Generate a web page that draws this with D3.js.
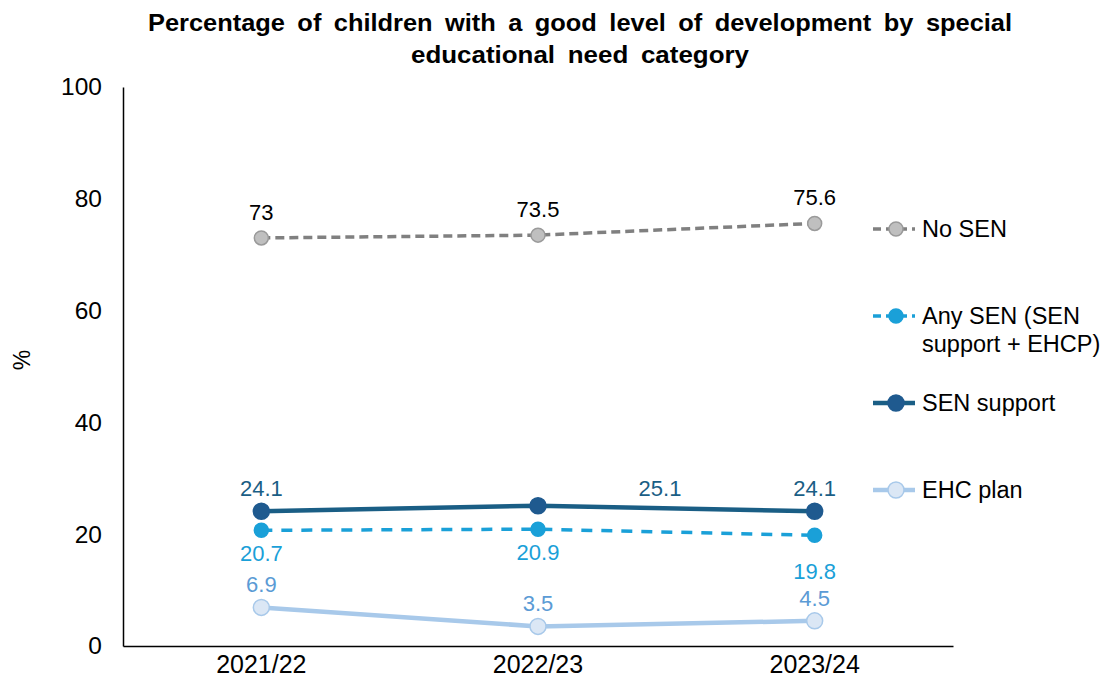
<!DOCTYPE html>
<html><head><meta charset="utf-8">
<script src="https://cdn.jsdelivr.net/npm/d3@7"></script>
<style>body{margin:0;background:#fff}svg{display:block;font-family:"Liberation Sans",Arial,sans-serif}</style>
</head><body><svg id="c" width="1106" height="687"></svg>
<script>
const categories = ["2021/22","2022/23","2023/24"];
const noSEN = [73, 73.5, 75.6];
const anySEN = [20.7, 20.9, 19.8];
const senSupport = [24.1, 25.1, 24.1];
const ehcPlan = [6.9, 3.5, 4.5];
const yTicks = [0,20,40,60,80,100];

const series = [
  {name:"No SEN", values:noSEN, line:"#808080", fill:"#bfbfbf", stroke:"#9a9a9a", width:3.5, dash:"9,5", r:7, label:"#000", pos:["a1","a1","a1"], legY:229, legLines:["No SEN"]},
  {name:"Any SEN (SEN support + EHCP)", values:anySEN, line:"#1aa0d8", fill:"#1aa0d8", stroke:"#1aa0d8", width:3.5, dash:"11,9", r:7, label:"#1aa0d8", pos:["b1","b1","b2"], legY:316, legLines:["Any SEN (SEN","support + EHCP)"]},
  {name:"SEN support", values:senSupport, line:"#1a5e85", fill:"#1f5a8f", stroke:"#1f5a8f", width:4.5, dash:null, r:8, label:"#1a5e85", pos:["a2","r","a2"], legY:403, legLines:["SEN support"]},
  {name:"EHC plan", values:ehcPlan, line:"#a8c9ea", fill:"#dbe7f5", stroke:"#a8c9ea", width:4.5, dash:null, r:8, label:"#5b9bd5", pos:["a3","a3","a3"], legY:490, legLines:["EHC plan"]}
];

const svg = d3.select("#c");
const x = d3.scaleBand().domain(categories).range([123,953]);
const y = d3.scaleLinear().domain([0,100]).range([646,87]);
const cx = d => x(d) + x.bandwidth()/2;

// title
[["Percentage of children with a good level of development by special",31,864],["educational need category",63,338]].forEach(([t,yy,w])=>{
  svg.append("text").attr("x",580).attr("y",yy).attr("text-anchor","middle").attr("font-weight","bold").attr("font-size",23.5)
    .attr("word-spacing",5).attr("textLength",w).attr("lengthAdjust","spacingAndGlyphs").text(t);
});

// axes
const ya = svg.append("g").attr("transform","translate(123,0)").call(d3.axisLeft(y).tickValues(yTicks).tickSize(0).tickPadding(21));
ya.select(".domain").attr("stroke","#000").attr("stroke-width",1.5);
ya.selectAll("text").attr("font-size",24.5).attr("fill","#000").attr("font-family","Liberation Sans, Arial, sans-serif");
const xa = svg.append("g").attr("transform","translate(0,646)").call(d3.axisBottom(x).tickSize(0).tickPadding(9));
xa.select(".domain").attr("stroke","#000").attr("stroke-width",1.5);
xa.selectAll("text").attr("font-size",25).attr("fill","#000").attr("font-family","Liberation Sans, Arial, sans-serif");

svg.append("text").attr("transform","translate(30,360) rotate(-90)").attr("text-anchor","middle").attr("font-size",23).text("%");

const line = d3.line().x((d,i)=>cx(categories[i])).y(d=>y(d));
const offsets = {a1:[0,-18], a2:[0,-15], a3:[0,-15], b1:[0,31], b2:[0,44], r:[122,-10]};

series.forEach(s=>{
  svg.append("path").attr("d",line(s.values)).attr("fill","none").attr("stroke",s.line).attr("stroke-width",s.width)
    .attr("stroke-dasharray",s.dash).attr("stroke-linejoin","round");
});
series.forEach(s=>{
  s.values.forEach((v,i)=>{
    svg.append("circle").attr("cx",cx(categories[i])).attr("cy",y(v)).attr("r",s.r)
      .attr("fill",s.fill).attr("stroke",s.stroke).attr("stroke-width",1.5);
    const o = offsets[s.pos[i]];
    svg.append("text").attr("x",cx(categories[i])+o[0]).attr("y",y(v)+o[1]).attr("text-anchor","middle")
      .attr("font-size",22).attr("fill",s.label).text(v);
  });
  // legend
  const ly = s.legY;
  svg.append("line").attr("x1",873).attr("x2",915).attr("y1",ly).attr("y2",ly).attr("stroke",s.line)
    .attr("stroke-width",s.width).attr("stroke-dasharray",s.dash ? "8,5" : null);
  svg.append("circle").attr("cx",896).attr("cy",ly).attr("r",s.r).attr("fill",s.fill).attr("stroke",s.stroke).attr("stroke-width",1.5);
  s.legLines.forEach((t,j)=>{
    svg.append("text").attr("x",922).attr("y",ly+8+j*28).attr("font-size",23.5).attr("fill","#000").text(t);
  });
});
</script></body></html>
